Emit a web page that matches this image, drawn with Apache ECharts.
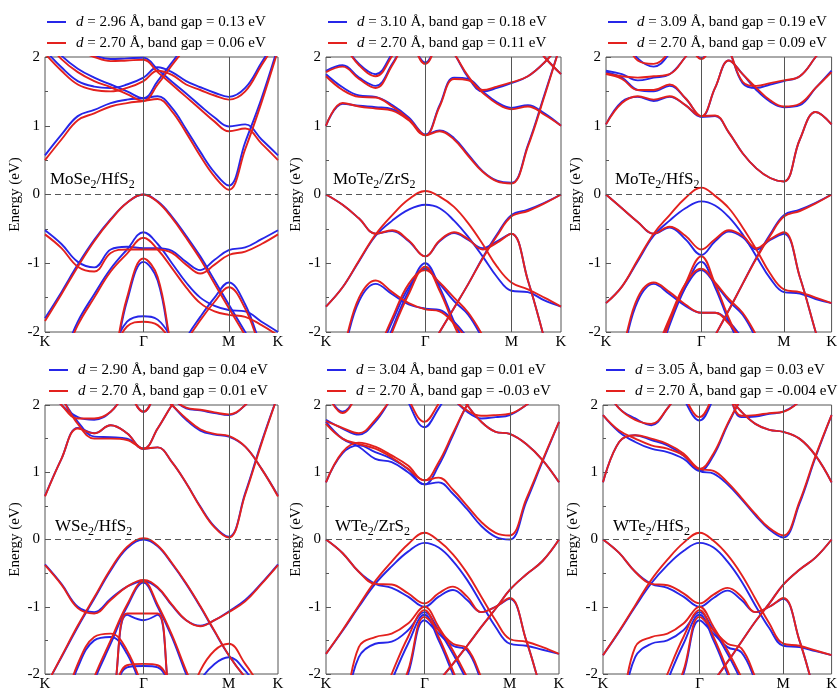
<!DOCTYPE html>
<html>
<head>
<meta charset="UTF-8">
<title>band structures</title>
<script src="https://cdn.jsdelivr.net/npm/echarts@6.0.0/dist/echarts.min.js"></script>
</head>
<body style="margin:0;background:#fff">
<div id="main" style="width:840px;height:692px;"></div>
<script type="text/javascript">
// k-path K - Γ - M - K (|ΓK| = 1)
var kpts = [0, 0.167, 0.333, 0.5, 0.667, 0.833, 1, 1.144, 1.289, 1.433, 1.577, 1.722, 1.866, 2.033, 2.199, 2.366];
var symPos = [0, 1, 1.866, 2.366];
var symNames = ['K', 'Γ', 'M', 'K'];

var panelNames = ['MoSe{s|2}/HfS{s|2}', 'MoTe{s|2}/ZrS{s|2}', 'MoTe{s|2}/HfS{s|2}',
                  'WSe{s|2}/HfS{s|2}', 'WTe{s|2}/ZrS{s|2}', 'WTe{s|2}/HfS{s|2}'];
var blueLabels = ['d = 2.96 Å, band gap = 0.13 eV', 'd = 3.10 Å, band gap = 0.18 eV', 'd = 3.09 Å, band gap = 0.19 eV',
                  'd = 2.90 Å, band gap = 0.04 eV', 'd = 3.04 Å, band gap = 0.01 eV', 'd = 3.05 Å, band gap = 0.03 eV'];
var redLabels = ['d = 2.70 Å, band gap = 0.06 eV', 'd = 2.70 Å, band gap = 0.11 eV', 'd = 2.70 Å, band gap = 0.09 eV',
                 'd = 2.70 Å, band gap = 0.01 eV', 'd = 2.70 Å, band gap = -0.03 eV', 'd = 2.70 Å, band gap = -0.004 eV'];

// energies (eV) of each band on kpts
var p1Blue = [
  [0.57,0.87,1.14,1.23,1.33,1.38,1.40,1.43,1.26,0.95,0.62,0.32,0.13,0.76,1.40,2.15],
  [2.3,2.02,1.83,1.70,1.60,1.50,1.40,1.65,1.92,2.2,2.5,2.6,2.6,2.6,2.6,2.6],
  [2.1,1.85,1.65,1.57,1.55,1.60,1.70,1.85,1.78,1.65,1.56,1.48,1.42,1.55,1.92,2.3],
  [2.3,2.2,2.1,2.02,1.97,1.98,1.99,1.82,1.64,1.47,1.29,1.12,0.99,1.02,0.80,0.57],
  [-1.8,-1.42,-1.02,-0.66,-0.36,-0.12,0,-0.1,-0.32,-0.6,-0.9,-1.25,-1.6,-2.0,-2.4,-2.6],
  [-0.52,-0.72,-0.98,-1.06,-0.8,-0.76,-0.78,-0.78,-0.82,-0.98,-1.1,-0.95,-0.81,-0.77,-0.65,-0.52],
  [-2.8,-2.4,-1.85,-1.45,-1.08,-0.8,-0.55,-0.72,-1.0,-1.28,-1.5,-1.62,-1.68,-1.7,-1.85,-2.0],
  [-3,-3,-3,-3,-2.6,-1.55,-0.98,-1.25,-2.3,-3,-3,-3,-3,-3,-3,-3],
  [-3,-3,-3,-3,-3,-3,-3,-3,-2.6,-2.1,-1.78,-1.5,-1.28,-1.6,-2.2,-2.6],
  [-3,-3,-3,-2.7,-2.3,-1.85,-1.77,-1.82,-2.1,-2.5,-3,-3,-3,-3,-3,-3]
];
var p1Red = [
  [0.50,0.80,1.08,1.18,1.28,1.33,1.36,1.39,1.21,0.9,0.56,0.26,0.07,0.66,1.34,2.1],
  [2.25,1.97,1.78,1.65,1.56,1.46,1.36,1.6,1.88,2.15,2.45,2.6,2.6,2.6,2.6,2.6],
  [2.05,1.8,1.6,1.52,1.5,1.55,1.65,1.8,1.74,1.6,1.52,1.44,1.38,1.5,1.88,2.25],
  [2.3,2.2,2.1,2.0,1.94,1.95,1.96,1.78,1.60,1.42,1.24,1.06,0.92,0.96,0.74,0.50],
  [-1.84,-1.45,-1.05,-0.68,-0.37,-0.12,0,-0.11,-0.34,-0.63,-0.94,-1.3,-1.65,-2.05,-2.45,-2.6],
  [-0.58,-0.78,-1.05,-1.12,-0.85,-0.8,-0.8,-0.8,-0.85,-1.02,-1.15,-1.02,-0.88,-0.83,-0.72,-0.58],
  [-2.85,-2.45,-1.9,-1.5,-1.12,-0.86,-0.63,-0.8,-1.07,-1.35,-1.58,-1.7,-1.75,-1.78,-1.9,-2.05],
  [-3,-3,-3,-3,-2.55,-1.5,-0.93,-1.2,-2.25,-3,-3,-3,-3,-3,-3,-3],
  [-3,-3,-3,-3,-3,-3,-3,-3,-2.65,-2.15,-1.83,-1.56,-1.35,-1.66,-2.25,-2.65],
  [-3,-3,-3,-2.75,-2.35,-1.92,-1.85,-1.9,-2.15,-2.55,-3,-3,-3,-3,-3,-3]
];
var p2Blue = [
  [1.0,1.32,1.29,1.27,1.24,1.1,0.87,0.93,0.82,0.58,0.34,0.2,0.17,0.72,1.45,2.2],
  [1.75,1.56,1.44,1.42,1.3,1.12,0.87,1.3,1.7,1.68,1.5,1.34,1.26,1.3,1.18,1.0],
  [1.8,1.88,1.7,1.58,1.9,2.3,2.5,2.3,2.05,1.7,1.5,1.55,1.62,1.72,1.92,2.2],
  [2.5,2.2,1.9,1.75,2.05,2.4,2.6,2.6,2.6,2.6,2.6,2.6,2.6,2.3,2.0,1.75],
  [2.6,2.6,2.6,2.6,2.6,2.3,1.92,2.3,2.6,2.6,2.6,2.6,2.6,2.6,2.6,2.6],
  [-1.63,-1.35,-0.97,-0.6,-0.38,-0.22,-0.15,-0.2,-0.38,-0.62,-0.9,-1.2,-1.4,-1.42,-1.54,-1.63],
  [0,-0.15,-0.35,-0.57,-0.53,-0.68,-0.9,-0.68,-0.56,-0.66,-0.78,-0.68,-0.57,-1.25,-2.1,-3],
  [-3,-3,-3,-3,-3,-2.7,-2.35,-2.0,-1.65,-1.3,-0.92,-0.58,-0.3,-0.22,-0.12,0],
  [-3,-3,-3,-2.6,-1.95,-1.4,-1.0,-1.35,-1.85,-2.3,-3,-3,-3,-3,-3,-3],
  [-3,-3,-2.9,-2.4,-1.85,-1.35,-1.08,-1.3,-1.55,-1.75,-2.1,-2.5,-3,-3,-3,-3],
  [-2.8,-2.3,-1.55,-1.3,-1.45,-1.6,-1.66,-1.68,-1.85,-2.1,-2.4,-2.6,-3,-3,-3,-3]
];
var p2Red = [
  [1.0,1.33,1.28,1.25,1.22,1.08,0.86,0.92,0.8,0.56,0.33,0.19,0.16,0.7,1.43,2.2],
  [1.72,1.52,1.42,1.41,1.28,1.1,0.86,1.28,1.68,1.66,1.48,1.32,1.24,1.28,1.16,1.0],
  [1.78,1.86,1.68,1.55,1.88,2.3,2.5,2.3,2.05,1.72,1.52,1.57,1.63,1.72,1.92,2.2],
  [2.5,2.2,1.88,1.72,2.02,2.4,2.6,2.6,2.6,2.6,2.6,2.6,2.6,2.3,2.0,1.75],
  [2.6,2.6,2.6,2.6,2.6,2.3,1.9,2.3,2.6,2.6,2.6,2.6,2.6,2.6,2.6,2.6],
  [-1.63,-1.35,-0.96,-0.58,-0.3,-0.07,0.05,-0.03,-0.18,-0.42,-0.72,-1.05,-1.28,-1.38,-1.5,-1.63],
  [0,-0.15,-0.35,-0.57,-0.52,-0.67,-0.9,-0.67,-0.55,-0.65,-0.8,-0.7,-0.57,-1.25,-2.1,-3],
  [-3,-3,-3,-3,-3,-2.7,-2.35,-2.0,-1.65,-1.3,-0.93,-0.6,-0.32,-0.24,-0.13,0],
  [-3,-3,-3,-2.65,-2.0,-1.45,-1.05,-1.4,-1.9,-2.35,-3,-3,-3,-3,-3,-3],
  [-3,-3,-2.85,-2.35,-1.8,-1.3,-1.1,-1.28,-1.5,-1.72,-2.05,-2.45,-3,-3,-3,-3],
  [-2.75,-2.25,-1.5,-1.25,-1.42,-1.58,-1.67,-1.7,-1.88,-2.12,-2.4,-2.6,-3,-3,-3,-3]
];
var p3Blue = [
  [1.02,1.35,1.42,1.36,1.42,1.3,1.13,1.14,0.9,0.6,0.38,0.24,0.19,0.8,1.2,1.02],
  [1.78,1.7,1.52,1.5,1.58,1.4,1.13,1.55,1.95,1.75,1.52,1.35,1.27,1.3,1.55,1.8],
  [1.8,1.75,1.66,1.7,1.75,2.0,2.3,2.4,2.1,1.62,1.55,1.6,1.65,1.72,2.0,2.3],
  [2.6,2.6,2.6,2.6,2.6,2.3,1.98,2.3,2.6,2.6,2.6,2.6,2.6,2.6,2.6,2.6],
  [2.5,2.3,1.98,1.86,2.05,2.4,2.6,2.6,2.6,2.6,2.6,2.6,2.6,2.6,2.6,2.6],
  [-1.58,-1.34,-0.97,-0.6,-0.38,-0.2,-0.1,-0.16,-0.33,-0.58,-0.9,-1.22,-1.42,-1.44,-1.52,-1.58],
  [0,-0.2,-0.4,-0.57,-0.48,-0.65,-0.88,-0.68,-0.54,-0.62,-0.8,-0.66,-0.57,-1.2,-2.0,-2.8],
  [-3,-3,-3,-3,-3,-2.8,-2.4,-2.05,-1.68,-1.3,-0.92,-0.58,-0.3,-0.22,-0.12,0],
  [-3,-3,-3,-2.6,-1.9,-1.35,-0.98,-1.35,-1.85,-2.3,-3,-3,-3,-3,-3,-3],
  [-3,-3,-2.9,-2.4,-1.85,-1.35,-1.1,-1.3,-1.55,-1.75,-2.1,-2.5,-3,-3,-3,-3],
  [-2.8,-2.3,-1.55,-1.3,-1.45,-1.62,-1.72,-1.72,-1.85,-2.1,-2.4,-2.6,-3,-3,-3,-3]
];
var p3Red = [
  [1.02,1.33,1.43,1.38,1.43,1.3,1.14,1.15,0.9,0.6,0.38,0.24,0.19,0.8,1.2,1.02],
  [1.75,1.68,1.52,1.52,1.6,1.4,1.14,1.55,1.95,1.75,1.55,1.37,1.28,1.32,1.55,1.78],
  [1.76,1.72,1.7,1.72,1.75,2.0,2.3,2.4,2.1,1.64,1.58,1.62,1.66,1.72,2.0,2.3],
  [2.6,2.6,2.6,2.6,2.6,2.3,1.97,2.3,2.6,2.6,2.6,2.6,2.6,2.6,2.6,2.6],
  [2.5,2.3,1.95,1.9,2.08,2.4,2.6,2.6,2.6,2.6,2.6,2.6,2.6,2.6,2.6,2.6],
  [-1.58,-1.34,-0.95,-0.57,-0.3,-0.05,0.1,-0.02,-0.2,-0.48,-0.8,-1.15,-1.38,-1.42,-1.5,-1.58],
  [0,-0.2,-0.4,-0.57,-0.47,-0.6,-0.8,-0.65,-0.52,-0.6,-0.78,-0.65,-0.55,-1.2,-2.0,-2.8],
  [-3,-3,-3,-3,-3,-2.8,-2.4,-2.05,-1.68,-1.3,-0.93,-0.6,-0.32,-0.24,-0.13,0],
  [-3,-3,-3,-2.55,-1.85,-1.3,-0.9,-1.3,-1.8,-2.25,-3,-3,-3,-3,-3,-3],
  [-3,-3,-2.85,-2.35,-1.8,-1.3,-1.08,-1.28,-1.52,-1.72,-2.05,-2.45,-3,-3,-3,-3],
  [-2.75,-2.25,-1.5,-1.28,-1.42,-1.6,-1.72,-1.72,-1.88,-2.12,-2.4,-2.6,-3,-3,-3,-3]
];
var p4Blue = [
  [0.65,1.2,1.66,1.58,1.7,1.58,1.35,1.37,1.15,0.84,0.49,0.19,0.04,0.69,1.45,2.15],
  [2.4,2.1,1.75,1.53,1.52,1.5,1.35,1.65,2.0,2.3,2.5,2.6,2.6,2.6,2.6,2.6],
  [2.3,2.0,1.82,1.78,1.9,2.2,2.4,2.2,2.0,1.78,1.62,1.56,1.53,1.38,1.05,0.65],
  [2.6,2.6,2.6,2.6,2.6,2.6,2.5,2.3,2.1,1.95,1.92,1.88,1.85,2.0,2.3,2.5],
  [2.6,2.6,2.6,2.6,2.6,2.25,1.9,2.25,2.6,2.6,2.6,2.6,2.6,2.6,2.6,2.6],
  [-2.2,-1.75,-1.3,-0.88,-0.46,-0.13,0,-0.1,-0.36,-0.66,-1.0,-1.37,-1.72,-2.05,-2.3,-2.5],
  [-0.37,-0.66,-1.0,-1.08,-0.88,-0.7,-0.62,-0.72,-0.98,-1.2,-1.28,-1.2,-1.07,-0.9,-0.65,-0.37],
  [-3,-3,-2.8,-2.1,-1.55,-1.0,-0.64,-1.0,-1.45,-2.0,-2.5,-3,-3,-3,-3,-3],
  [-3,-3,-3,-3,-2.6,-1.12,-1.2,-1.12,-2.6,-3,-3,-3,-3,-3,-3,-3],
  [-3,-2.6,-1.9,-1.5,-1.45,-1.7,-2.3,-3,-3,-3,-3,-3,-3,-3,-3,-3],
  [-3,-3,-3,-3,-2.5,-1.9,-1.88,-1.9,-2.3,-3,-3,-3,-3,-3,-3,-3],
  [-3,-3,-3,-3,-3,-3,-3,-3,-3,-2.6,-2.1,-1.85,-1.75,-1.95,-2.3,-2.6]
];
var p4Red = [
  [0.64,1.2,1.65,1.58,1.7,1.58,1.35,1.37,1.15,0.84,0.48,0.18,0.03,0.67,1.43,2.15],
  [2.4,2.1,1.72,1.5,1.5,1.48,1.35,1.65,2.0,2.3,2.5,2.6,2.6,2.6,2.6,2.6],
  [2.3,2.0,1.8,1.8,1.9,2.2,2.4,2.2,2.0,1.8,1.64,1.57,1.54,1.38,1.05,0.64],
  [2.6,2.6,2.6,2.6,2.6,2.6,2.5,2.3,2.1,1.96,1.93,1.89,1.86,2.0,2.3,2.5],
  [2.6,2.6,2.6,2.6,2.6,2.25,1.9,2.25,2.6,2.6,2.6,2.6,2.6,2.6,2.6,2.6],
  [-2.2,-1.74,-1.28,-0.86,-0.44,-0.11,0.02,-0.09,-0.35,-0.65,-0.99,-1.36,-1.72,-2.05,-2.3,-2.5],
  [-0.38,-0.67,-1.02,-1.1,-0.9,-0.7,-0.6,-0.71,-0.97,-1.2,-1.29,-1.2,-1.08,-0.92,-0.66,-0.38],
  [-3,-3,-2.75,-2.05,-1.5,-0.97,-0.62,-0.97,-1.42,-1.95,-2.45,-3,-3,-3,-3,-3],
  [-3,-3,-3,-3,-2.6,-1.1,-1.1,-1.1,-2.6,-3,-3,-3,-3,-3,-3,-3],
  [-3,-2.55,-1.85,-1.45,-1.4,-1.65,-2.25,-3,-3,-3,-3,-3,-3,-3,-3,-3],
  [-3,-3,-3,-3,-2.45,-1.87,-1.85,-1.87,-2.25,-3,-3,-3,-3,-3,-3,-3],
  [-3,-3,-3,-3,-3,-3,-3,-3,-3,-2.5,-1.95,-1.65,-1.55,-1.85,-2.2,-2.5]
];
var p5Blue = [
  [0.85,1.28,1.4,1.3,1.2,1.05,0.82,0.85,0.68,0.45,0.2,0.04,0,0.56,1.16,1.75],
  [1.75,1.5,1.38,1.2,1.15,1.0,0.82,1.1,1.55,2.0,2.3,2.5,2.6,2.6,2.6,2.6],
  [1.78,1.65,1.56,1.75,2.1,2.4,2.6,2.5,2.3,2.0,1.75,1.6,1.57,1.42,1.18,0.85],
  [2.6,2.6,2.6,2.6,2.6,2.05,1.67,1.95,2.3,2.6,2.6,2.6,2.6,2.6,2.6,2.6],
  [2.6,2.6,2.6,2.6,2.6,2.6,2.6,2.4,2.1,1.9,1.8,1.82,1.85,2.0,2.2,2.4],
  [2.2,1.9,2.2,2.6,2.6,2.6,2.6,2.6,2.6,2.6,2.6,2.6,2.6,2.6,2.6,2.6],
  [-1.7,-1.36,-1.0,-0.66,-0.4,-0.18,-0.05,-0.12,-0.32,-0.6,-0.95,-1.3,-1.55,-1.58,-1.64,-1.7],
  [0,-0.2,-0.48,-0.66,-0.72,-0.85,-1.0,-0.85,-0.75,-0.9,-1.08,-1.0,-0.88,-1.5,-2.3,-3],
  [-3,-3,-3,-3,-3,-2.5,-2.3,-2.1,-1.85,-1.58,-1.3,-1.03,-0.75,-0.52,-0.32,0],
  [-3,-2.6,-1.75,-1.55,-1.52,-1.35,-1.08,-1.35,-1.7,-2.1,-2.5,-3,-3,-3,-3,-3],
  [-3,-3,-3,-2.7,-2.1,-1.55,-1.12,-1.5,-2.0,-2.5,-3,-3,-3,-3,-3,-3],
  [-3,-3,-3,-3,-2.6,-2.0,-1.2,-1.4,-1.58,-1.65,-2.1,-2.6,-3,-3,-3,-3]
];
var p5Red = [
  [0.85,1.3,1.44,1.38,1.25,1.1,0.88,0.92,0.74,0.5,0.26,0.1,0.06,0.6,1.18,1.75],
  [1.72,1.5,1.42,1.35,1.22,1.05,0.88,1.15,1.58,2.0,2.3,2.5,2.6,2.6,2.6,2.6],
  [1.76,1.66,1.58,1.78,2.1,2.4,2.6,2.5,2.3,2.0,1.75,1.6,1.57,1.42,1.18,0.85],
  [2.6,2.6,2.6,2.6,2.6,2.1,1.75,2.02,2.35,2.6,2.6,2.6,2.6,2.6,2.6,2.6],
  [2.6,2.6,2.6,2.6,2.6,2.6,2.6,2.4,2.1,1.92,1.84,1.85,1.87,2.0,2.2,2.4],
  [2.2,1.88,2.2,2.6,2.6,2.6,2.6,2.6,2.6,2.6,2.6,2.6,2.6,2.6,2.6,2.6],
  [-1.7,-1.35,-0.98,-0.62,-0.33,-0.07,0.1,-0.02,-0.22,-0.5,-0.85,-1.2,-1.48,-1.52,-1.6,-1.7],
  [0,-0.2,-0.48,-0.66,-0.67,-0.8,-0.95,-0.8,-0.7,-0.85,-1.08,-1.0,-0.87,-1.5,-2.3,-3],
  [-3,-3,-3,-3,-3,-2.5,-2.3,-2.1,-1.85,-1.58,-1.3,-1.03,-0.75,-0.52,-0.32,0],
  [-3,-2.6,-1.6,-1.45,-1.4,-1.25,-1.0,-1.3,-1.65,-2.05,-2.5,-3,-3,-3,-3,-3],
  [-3,-3,-3,-2.6,-2.0,-1.45,-1.05,-1.45,-1.95,-2.5,-3,-3,-3,-3,-3,-3],
  [-3,-3,-3,-3,-2.55,-1.95,-1.15,-1.35,-1.55,-1.62,-2.05,-2.55,-3,-3,-3,-3]
];
var p6Blue = [
  [0.85,1.45,1.55,1.48,1.4,1.25,1.02,0.98,0.82,0.6,0.36,0.15,0.03,0.53,1.22,1.85],
  [1.85,1.6,1.45,1.35,1.3,1.2,1.02,1.25,1.7,2.1,2.4,2.6,2.6,2.6,2.6,2.6],
  [2.3,1.95,1.8,1.7,1.95,2.3,2.6,2.4,2.15,1.9,1.72,1.63,1.6,1.5,1.25,0.85],
  [2.6,2.6,2.6,2.6,2.6,2.1,1.77,2.1,2.6,2.6,2.6,2.6,2.6,2.6,2.6,2.6],
  [2.6,2.6,2.6,2.6,2.6,2.6,2.6,2.5,2.2,1.82,1.83,1.87,1.9,2.05,2.3,2.5],
  [-1.72,-1.37,-1.0,-0.65,-0.38,-0.17,-0.05,-0.12,-0.33,-0.62,-0.98,-1.32,-1.58,-1.6,-1.66,-1.72],
  [0,-0.2,-0.48,-0.66,-0.72,-0.85,-1.0,-0.87,-0.76,-0.9,-1.08,-1.0,-0.88,-1.5,-2.3,-3],
  [-3,-3,-3,-3,-3,-2.5,-2.3,-2.1,-1.82,-1.52,-1.22,-0.95,-0.67,-0.45,-0.27,0],
  [-3,-2.6,-1.75,-1.55,-1.5,-1.35,-1.08,-1.35,-1.7,-2.1,-2.5,-3,-3,-3,-3,-3],
  [-3,-3,-3,-2.7,-2.1,-1.55,-1.12,-1.5,-2.0,-2.5,-3,-3,-3,-3,-3,-3],
  [-3,-3,-3,-3,-2.6,-2.0,-1.2,-1.4,-1.6,-1.68,-2.1,-2.6,-3,-3,-3,-3]
];
var p6Red = [
  [0.85,1.45,1.55,1.5,1.42,1.28,1.05,1.02,0.85,0.62,0.38,0.17,0.06,0.56,1.24,1.85],
  [1.85,1.62,1.5,1.4,1.35,1.25,1.05,1.28,1.72,2.1,2.4,2.6,2.6,2.6,2.6,2.6],
  [2.3,1.95,1.78,1.72,1.95,2.3,2.6,2.4,2.15,1.9,1.72,1.63,1.6,1.5,1.25,0.85],
  [2.6,2.6,2.6,2.6,2.6,2.15,1.82,2.15,2.6,2.6,2.6,2.6,2.6,2.6,2.6,2.6],
  [2.6,2.6,2.6,2.6,2.6,2.6,2.6,2.5,2.2,1.84,1.85,1.88,1.9,2.05,2.3,2.5],
  [-1.72,-1.36,-0.98,-0.6,-0.3,-0.05,0.1,-0.02,-0.23,-0.52,-0.88,-1.25,-1.55,-1.58,-1.65,-1.72],
  [0,-0.2,-0.48,-0.66,-0.68,-0.8,-0.95,-0.82,-0.72,-0.85,-1.08,-1.0,-0.87,-1.5,-2.3,-3],
  [-3,-3,-3,-3,-3,-2.5,-2.3,-2.1,-1.82,-1.52,-1.22,-0.95,-0.67,-0.45,-0.27,0],
  [-3,-2.6,-1.6,-1.45,-1.4,-1.25,-1.0,-1.3,-1.65,-2.05,-2.5,-3,-3,-3,-3,-3],
  [-3,-3,-3,-2.6,-2.0,-1.45,-1.05,-1.45,-1.95,-2.5,-3,-3,-3,-3,-3,-3],
  [-3,-3,-3,-3,-2.55,-1.95,-1.15,-1.35,-1.55,-1.62,-2.05,-2.55,-3,-3,-3,-3]
];

var blueBands = [p1Blue, p2Blue, p3Blue, p4Blue, p5Blue, p6Blue];
var redBands = [p1Red, p2Red, p3Red, p4Red, p5Red, p6Red];

var BLUE = '#2626e8', RED = '#e3211e';
var FONT = 'Liberation Serif';

// panel layout [left, top, width, height]
var boxes = [[45, 57, 233, 275], [326, 57, 235, 275], [606, 57, 238, 275],
             [45, 405, 233, 274], [326, 405, 233, 274], [603, 405, 236, 274]];
var legendPos = [[47, 14], [328, 14], [608, 14], [49, 362], [327, 362], [606, 362]];
var namePos = [[50, 171], [333, 171], [615, 171], [55, 518], [335, 518], [613, 518]];

var myChart = echarts.init(document.getElementById('main'));

var grids = [], xAxes = [], yAxes = [], series = [], legends = [], graphics = [];

boxes.forEach(function (b, i) {
    grids.push({left: b[0], top: b[1], width: b[2], height: b[3], show: true,
        borderColor: '#555', borderWidth: 1, backgroundColor: 'transparent'});
    xAxes.push({
        gridIndex: i, type: 'value', min: 0, max: kpts[kpts.length - 1],
        axisLine: {show: false}, axisTick: {show: false}, splitLine: {show: false},
        axisLabel: {
            customValues: symPos, margin: 3, color: '#000', fontFamily: FONT, fontSize: 15,
            formatter: function (v) {
                for (var j = 0; j < symPos.length; j++) {
                    if (Math.abs(symPos[j] - v) < 1e-6) return symNames[j];
                }
                return '';
            }
        }
    });
    yAxes.push({
        gridIndex: i, type: 'value', min: -2, max: 2, interval: 1,
        name: 'Energy (eV)', nameLocation: 'middle', nameGap: 22,
        nameTextStyle: {fontFamily: FONT, fontSize: 15, color: '#000'},
        axisLine: {show: false},
        axisTick: {show: true, inside: true, length: 5, lineStyle: {color: '#555'}},
        minorTick: {show: true, splitNumber: 2, length: 3, lineStyle: {color: '#555'}},
        splitLine: {show: false},
        axisLabel: {color: '#000', fontFamily: FONT, fontSize: 15, margin: 5}
    });
    legends.push({
        data: [blueLabels[i], redLabels[i]],
        left: legendPos[i][0], top: legendPos[i][1], orient: 'vertical',
        padding: 0, itemGap: 5, itemWidth: 19, itemHeight: 2, icon: 'rect',
        selectedMode: false,
        textStyle: {fontFamily: FONT, fontSize: 15, color: '#000', lineHeight: 16,
            padding: [0, 0, 0, 5],
            rich: {i: {fontStyle: 'italic', fontFamily: FONT, fontSize: 15, color: '#000'}}},
        formatter: function (name) { return '{i|d}' + name.slice(1); }
    });
    graphics.push({
        type: 'text', left: namePos[i][0], top: namePos[i][1], silent: true,
        style: {
            text: panelNames[i], fontFamily: FONT, fontSize: 17, fill: '#000',
            rich: {s: {fontFamily: FONT, fontSize: 12, padding: [10, 0, 0, 0]}}
        }
    });

    var pairs = [[blueBands[i], BLUE, blueLabels[i]], [redBands[i], RED, redLabels[i]]];
    pairs.forEach(function (p, c) {
        p[0].forEach(function (band, n) {
            var s = {
                type: 'line', name: p[2], xAxisIndex: i, yAxisIndex: i,
                data: kpts.map(function (k, j) { return [k, band[j]]; }),
                smooth: 0.4, showSymbol: false, symbol: 'none', silent: true,
                color: p[1], itemStyle: {color: p[1]},
                lineStyle: {color: p[1], width: 1.9}, z: 3 + c
            };
            if (c === 0 && n === 0) {
                s.markLine = {
                    silent: true, symbol: ['none', 'none'], label: {show: false},
                    lineStyle: {color: '#555', width: 1, type: 'solid'},
                    data: [{xAxis: 1}, {xAxis: 1.866},
                           {yAxis: 0, lineStyle: {color: '#555', type: [6, 4], width: 1}}]
                };
            }
            series.push(s);
        });
    });
});

var option = {
    animation: false,
    backgroundColor: '#fff',
    grid: grids,
    xAxis: xAxes,
    yAxis: yAxes,
    legend: legends,
    graphic: graphics,
    series: series
};
myChart.setOption(option);
</script>
</body>
</html>
